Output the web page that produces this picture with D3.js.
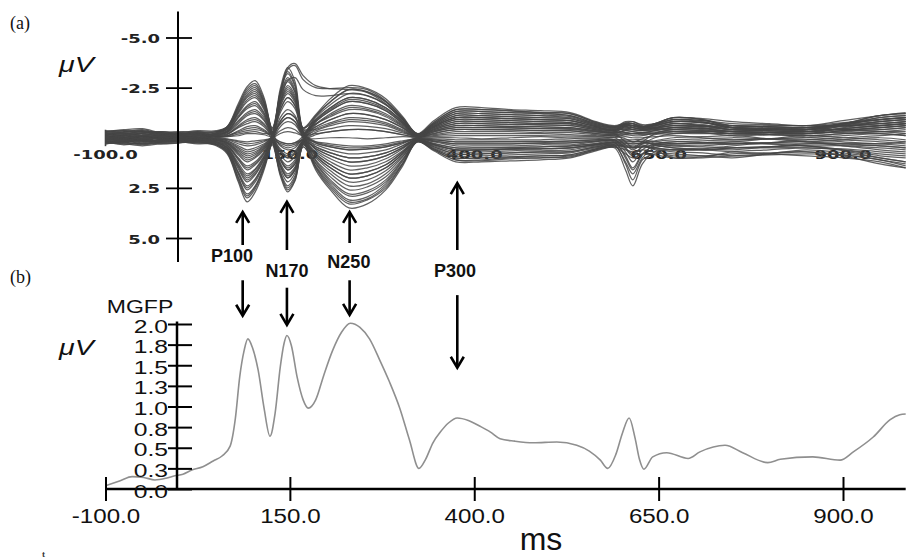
<!DOCTYPE html>
<html>
<head>
<meta charset="utf-8">
<script src="https://cdn.jsdelivr.net/npm/d3@7/dist/d3.min.js"></script>
<style>
  html, body { margin: 0; padding: 0; background: #ffffff; }
  svg { display: block; }
</style>
</head>
<body>
<svg id="chart" width="906" height="559"></svg>
<script>
// ---------------- DATA ----------------
// Sample times (ms) shared by every channel of the butterfly plot (panel a)
const times = [-100,-75,-50,-25,0,25,50,65,80,92,103,115,126,137,147,157,168,185,205,230,255,280,303,323,345,375,410,450,490,530,565,590,605,615,628,645,670,710,750,800,850,900,950,985];

// Channel voltages (µV, positive drawn downward), one array per electrode
const channelValues = [
  [0.2,0.3,0.25,0.1,0.15,0.2,0.4,0.8,2.2,3.2,2.7,1.6,0.2,-0.8,-1.2,-1.0,0.0,1.6,2.6,3.5,3.3,2.6,1.4,0.2,0.6,1.1,1.1,1.0,1.0,0.9,0.6,0.45,0.6,0.7,0.6,0.7,0.9,0.9,0.8,0.75,0.7,0.9,1.3,1.5],
  [-0.1,0.1,0.3,0.2,0.0,0.1,0.35,0.75,2.1,3.0,2.55,1.5,0.2,-0.55,-0.8,-0.65,0.05,1.5,2.5,3.3,3.1,2.5,1.3,0.2,0.55,1.0,1.0,0.95,0.9,0.85,0.55,0.4,0.45,0.5,0.45,0.55,0.7,0.75,0.9,0.85,0.8,0.85,1.1,1.3],
  [0.3,0.2,0.1,0.25,0.2,0.25,0.34,0.7,1.95,2.8,2.4,1.4,0.35,1.9,2.7,2.15,0.45,1.3,2.2,2.9,2.75,2.2,1.15,0.2,0.65,1.2,1.2,1.15,1.1,1.0,0.65,0.5,1.6,2.4,1.3,0.7,0.6,0.6,0.5,0.45,0.4,0.6,0.9,1.0],
  [0.1,0.0,0.15,0.3,0.25,0.1,0.3,0.65,1.8,2.6,2.2,1.3,0.3,1.7,2.4,1.9,0.45,1.4,2.3,3.1,2.95,2.3,1.25,0.2,0.45,0.8,0.8,0.75,0.7,0.7,0.45,0.35,1.3,2.1,1.1,0.8,0.8,0.9,1.0,0.8,0.6,0.75,1.0,1.2],
  [0.2,0.35,0.2,0.0,0.1,0.2,0.3,0.6,1.7,2.4,2.05,1.2,0.1,-1.4,-2.0,-1.6,-0.1,1.15,1.95,2.6,2.45,1.95,1.05,0.15,0.4,0.7,0.7,0.65,0.65,0.6,0.4,0.3,0.35,0.4,0.35,0.6,1.0,0.95,0.7,0.6,0.5,0.6,0.8,0.9],
  [-0.1,0.05,0.2,0.15,0.1,0.0,0.25,0.55,1.55,2.2,1.85,1.1,0.25,1.4,2.0,1.6,0.35,1.0,1.65,2.2,2.1,1.65,0.9,0.15,0.55,1.0,1.0,0.95,0.9,0.85,0.55,0.4,1.2,1.8,1.0,0.5,0.4,0.4,0.3,0.25,0.2,0.4,0.6,0.7],
  [0.3,0.15,-0.05,0.1,0.2,0.25,0.25,0.5,1.4,2.0,1.7,1.0,0.05,-1.8,-2.6,-2.1,-0.2,0.8,1.35,1.8,1.7,1.35,0.7,0.1,0.3,0.5,0.5,0.5,0.45,0.4,0.3,0.2,0.2,0.2,0.2,0.35,0.5,0.55,0.6,0.45,0.3,0.35,0.4,0.5],
  [0.0,0.2,0.3,0.1,-0.05,0.1,0.2,0.45,1.25,1.8,1.55,0.9,0.2,1.1,1.6,1.3,0.35,1.25,2.1,2.8,2.65,2.1,1.1,0.15,0.35,0.6,0.6,0.55,0.55,0.5,0.35,0.25,0.9,1.5,0.8,0.4,0.3,0.25,0.2,0.3,0.4,0.4,0.5,0.6],
  [0.15,0.25,0.1,0.05,0.2,0.15,0.2,0.4,1.1,1.6,1.35,0.8,0.0,-2.1,-3.0,-2.4,-0.3,0.6,1.05,1.4,1.35,1.05,0.55,0.1,0.5,0.9,0.9,0.85,0.8,0.75,0.5,0.35,0.45,0.5,0.45,0.5,0.6,0.55,0.4,0.25,0.1,0.2,0.3,0.2],
  [0.1,-0.1,0.05,0.2,0.15,0.05,0.15,0.35,1.0,1.4,1.2,0.7,0.15,0.85,1.2,0.95,0.25,0.9,1.5,2.0,1.9,1.5,0.8,0.1,0.2,0.4,0.4,0.4,0.35,0.35,0.2,0.15,0.7,1.2,0.6,0.3,0.2,0.15,0.1,0.05,0.0,0.1,0.2,0.3],
  [-0.2,-0.1,0.0,-0.15,0.0,0.05,0.1,0.3,0.85,1.2,1.0,0.6,-0.05,-2.45,-3.5,-2.8,-0.35,0.45,0.75,1.0,0.95,0.75,0.4,0.05,0.15,0.3,0.3,0.3,0.25,0.25,0.15,0.1,0.1,0.1,0.1,0.2,0.3,0.25,0.2,0.05,-0.1,0.0,0.1,0.2],
  [0.05,0.1,-0.1,-0.05,0.05,0.1,0.12,0.25,0.7,1.0,0.85,0.5,0.1,0.55,0.8,0.65,0.2,0.7,1.2,1.6,1.5,1.2,0.65,0.1,0.1,0.2,0.2,0.2,0.2,0.15,0.1,0.1,0.55,0.9,0.45,0.2,0.1,0.05,0.0,0.05,0.1,0.0,-0.1,-0.2],
  [0.2,0.1,0.15,0.0,-0.1,0.0,0.1,0.2,0.55,0.8,0.7,0.4,-0.05,-1.25,-1.8,-1.45,-0.2,0.25,0.45,0.6,0.55,0.45,0.25,0.05,0.35,0.6,0.6,0.55,0.55,0.5,0.35,0.25,0.25,0.3,0.25,0.15,0.0,-0.05,-0.1,0.05,0.2,0.1,0.0,0.1],
  [-0.1,0.0,0.1,0.15,0.05,-0.05,0.05,0.15,0.4,0.6,0.5,0.3,0.05,0.35,0.5,0.4,0.1,0.55,0.9,1.2,1.15,0.9,0.5,0.05,0.05,0.1,0.1,0.1,0.1,0.05,0.05,0.0,0.35,0.6,0.3,0.0,-0.2,-0.2,-0.2,-0.15,-0.1,-0.2,-0.3,-0.4],
  [0.0,-0.15,-0.2,-0.05,0.1,0.0,0.05,0.1,0.3,0.4,0.35,0.2,-0.05,-0.7,-1.0,-0.8,-0.15,-0.2,-0.3,-0.4,-0.4,-0.3,-0.15,0.0,0.0,0.0,0.05,0.0,-0.05,0.0,0.0,0.0,-0.05,0.0,0.0,-0.05,-0.1,0.0,0.1,0.05,0.0,-0.1,-0.2,-0.1],
  [0.1,0.05,-0.1,-0.2,-0.1,0.05,0.0,0.05,0.15,0.2,0.15,0.1,0.05,0.2,0.3,0.25,0.1,0.35,0.6,0.8,0.75,0.6,0.3,0.0,-0.1,-0.2,-0.2,-0.2,-0.2,-0.15,-0.1,-0.1,0.05,0.2,0.05,-0.15,-0.3,-0.3,-0.3,-0.25,-0.2,-0.35,-0.5,-0.6],
  [-0.2,-0.25,-0.1,0.0,-0.05,-0.1,-0.05,-0.05,-0.1,-0.2,-0.2,-0.15,-0.05,-0.35,-0.5,-0.4,-0.1,-0.35,-0.6,-0.8,-0.75,-0.6,-0.3,-0.05,-0.15,-0.3,-0.3,-0.3,-0.25,-0.25,-0.15,-0.1,-0.15,-0.1,-0.1,-0.25,-0.4,-0.35,-0.2,-0.25,-0.3,-0.45,-0.6,-0.7],
  [0.0,0.1,0.2,0.1,0.0,-0.1,-0.05,-0.1,-0.25,-0.35,-0.4,-0.3,0.0,0.7,1.0,0.8,0.15,0.2,0.3,0.4,0.4,0.3,0.15,0.0,-0.2,-0.4,-0.4,-0.4,-0.35,-0.35,-0.2,-0.15,-0.2,-0.2,-0.2,-0.2,-0.2,-0.3,-0.4,-0.4,-0.4,-0.4,-0.4,-0.5],
  [-0.15,-0.3,-0.35,-0.2,-0.1,-0.2,-0.1,-0.1,-0.35,-0.55,-0.6,-0.4,-0.2,-1.55,-2.2,-1.75,-0.3,-0.55,-0.9,-1.2,-1.15,-0.9,-0.5,-0.05,-0.3,-0.5,-0.5,-0.5,-0.45,-0.45,-0.3,-0.2,-0.35,-0.3,-0.25,-0.35,-0.5,-0.45,-0.3,-0.25,-0.2,-0.5,-0.8,-0.9],
  [0.1,0.0,-0.1,0.05,0.15,0.1,0.0,-0.15,-0.5,-0.7,-0.8,-0.55,-0.05,1.0,1.4,1.1,0.15,0.05,0.0,0.0,0.05,0.0,-0.05,-0.05,-0.35,-0.6,-0.6,-0.55,-0.55,-0.5,-0.35,-0.25,-0.35,-0.4,-0.35,-0.45,-0.6,-0.6,-0.5,-0.5,-0.5,-0.6,-0.7,-0.8],
  [-0.25,-0.2,-0.3,-0.15,-0.2,-0.25,-0.1,-0.2,-0.6,-0.9,-1.0,-0.7,-0.25,-1.95,-2.8,-2.25,-0.4,-0.7,-1.2,-1.6,-1.5,-1.2,-0.65,-0.1,-0.4,-0.7,-0.7,-0.65,-0.65,-0.6,-0.4,-0.3,-0.5,-0.5,-0.4,-0.5,-0.7,-0.6,-0.4,-0.35,-0.3,-0.6,-1.0,-1.1],
  [-0.05,0.1,0.0,-0.1,0.05,0.1,-0.1,-0.25,-0.7,-1.1,-1.2,-0.85,-0.05,1.25,1.8,1.45,0.2,-0.15,-0.3,-0.4,-0.4,-0.3,-0.15,-0.05,-0.45,-0.8,-0.8,-0.75,-0.7,-0.7,-0.45,-0.35,-0.55,-0.6,-0.5,-0.6,-0.8,-0.75,-0.6,-0.6,-0.6,-0.6,-0.6,-0.7],
  [-0.3,-0.35,-0.2,-0.1,-0.15,-0.3,-0.15,-0.3,-0.85,-1.25,-1.4,-1.0,-0.3,-2.3,-3.3,-2.65,-0.5,-0.9,-1.5,-2.0,-1.9,-1.5,-0.8,-0.15,-0.5,-0.9,-0.9,-0.85,-0.8,-0.75,-0.5,-0.35,-0.65,-0.7,-0.55,-0.65,-0.9,-0.8,-0.5,-0.45,-0.4,-0.7,-1.1,-1.2],
  [0.05,-0.05,0.15,0.2,0.1,0.0,-0.15,-0.3,-1.0,-1.45,-1.6,-1.1,-0.1,1.55,2.2,1.75,0.2,-0.45,-0.75,-1.0,-0.95,-0.75,-0.4,-0.1,-0.55,-1.0,-1.0,-0.95,-0.9,-0.85,-0.55,-0.4,-0.7,-0.8,-0.6,-0.7,-1.0,-0.9,-0.6,-0.55,-0.5,-0.7,-0.9,-1.0],
  [-0.2,-0.1,-0.25,-0.3,-0.2,-0.15,-0.2,-0.35,-1.1,-1.6,-1.8,-1.25,-0.3,-2.2,-3.5,-3.7,-3.1,-2.6,-2.45,-2.4,-2.25,-1.7,-0.9,-0.15,-0.6,-1.1,-1.1,-1.05,-1.0,-0.95,-0.6,-0.45,-0.65,-0.6,-0.5,-0.6,-0.8,-0.75,-0.5,-0.45,-0.4,-0.55,-0.7,-0.8],
  [0.15,0.2,0.1,0.0,0.05,0.15,-0.2,-0.4,-1.2,-1.8,-2.0,-1.4,-0.1,1.75,2.5,2.0,0.25,-0.65,-1.05,-1.4,-1.35,-1.05,-0.55,-0.1,-0.65,-1.2,-1.2,-1.15,-1.1,-1.0,-0.65,-0.5,-0.7,-0.7,-0.55,-0.65,-0.9,-0.85,-0.6,-0.55,-0.5,-0.65,-0.8,-0.9],
  [-0.3,-0.4,-0.45,-0.25,-0.2,-0.3,-0.3,-0.45,-1.3,-2.0,-2.2,-1.55,-0.4,-2.25,-3.2,-2.55,-0.5,-1.15,-1.95,-2.6,-2.45,-1.95,-1.05,-0.2,-0.7,-1.3,-1.3,-1.25,-1.2,-1.1,-0.7,-0.55,-0.8,-0.8,-0.65,-0.7,-1.0,-0.9,-0.5,-0.45,-0.4,-0.7,-1.0,-1.1],
  [-0.1,0.0,-0.05,0.1,0.0,-0.1,-0.25,-0.5,-1.45,-2.15,-2.4,-1.7,-0.2,1.05,1.5,1.2,0.1,-0.8,-1.35,-1.8,-1.7,-1.35,-0.7,-0.15,-0.75,-1.4,-1.4,-1.35,-1.25,-1.2,-0.75,-0.55,-0.65,-0.6,-0.5,-0.55,-0.7,-0.65,-0.4,-0.35,-0.3,-0.45,-0.6,-0.7],
  [-0.35,-0.3,-0.4,-0.2,-0.25,-0.35,-0.35,-0.55,-1.55,-2.35,-2.6,-1.8,-0.45,-1.75,-2.5,-2.0,-0.45,-1.1,-1.8,-2.4,-2.3,-1.8,-0.95,-0.2,-0.85,-1.5,-1.5,-1.4,-1.35,-1.25,-0.8,-0.6,-0.7,-0.5,-0.45,-0.5,-0.6,-0.5,-0.3,-0.4,-0.5,-0.7,-0.9,-1.0],
  [-0.15,-0.2,-0.3,-0.1,-0.2,-0.25,-0.3,-0.55,-1.7,-2.55,-2.85,-2.0,-0.3,0.4,0.6,0.5,-0.05,-1.0,-1.65,-2.2,-2.1,-1.65,-0.9,-0.15,-0.7,-1.3,-1.3,-1.25,-1.2,-1.1,-0.7,-0.5,-0.55,-0.4,-0.35,-0.4,-0.5,-0.4,-0.2,-0.25,-0.3,-0.4,-0.5,-0.6],
  [-0.25,-0.35,-0.3,-0.25,-0.15,-0.2,-0.3,-0.55,-1.6,-2.45,-2.7,-1.9,-0.5,-2.15,-3.4,-3.6,-2.9,-2.5,-2.45,-2.5,-2.4,-1.85,-1.0,-0.2,-0.65,-1.2,-1.2,-1.15,-1.1,-1.05,-0.65,-0.5,-0.75,-0.7,-0.55,-0.6,-0.8,-0.75,-0.5,-0.45,-0.4,-0.7,-1.1,-1.2],
  [0.0,0.1,0.05,-0.1,0.05,0.0,-0.25,-0.5,-1.5,-2.25,-2.5,-1.75,-0.15,1.8,2.6,2.1,0.2,-0.9,-1.5,-2.0,-1.9,-1.5,-0.8,-0.1,-0.55,-1.0,-1.0,-0.95,-0.9,-0.85,-0.55,-0.4,-0.65,-0.6,-0.5,-0.45,-0.5,-0.45,-0.3,-0.25,-0.2,-0.3,-0.4,-0.5],
  [0.25,0.15,0.3,0.2,0.1,0.15,0.35,0.72,2.0,2.9,2.45,1.45,0.12,-1.6,-2.3,-1.85,-0.15,0.9,1.5,2.0,1.9,1.5,0.8,0.1,0.45,0.8,0.8,0.75,0.72,0.68,0.45,0.35,0.4,0.45,0.4,0.5,0.6,0.6,0.5,0.45,0.4,0.65,1.0,1.2],
  [0.2,0.25,0.35,0.25,0.2,0.3,0.32,0.62,1.75,2.5,2.1,1.25,0.25,0.7,1.0,0.8,0.28,1.45,2.4,3.2,3.05,2.4,1.3,0.2,0.6,1.1,1.15,1.05,1.0,0.95,0.6,0.45,0.8,1.0,0.8,0.85,1.0,1.0,0.9,0.8,0.7,0.85,1.1,1.4],
  [-0.05,0.05,0.1,0.0,0.1,0.05,0.22,0.48,1.35,1.9,1.6,0.95,0.1,-1.0,-1.4,-1.1,-0.05,1.1,1.8,2.4,2.3,1.8,0.95,0.12,0.18,0.3,0.3,0.3,0.28,0.25,0.18,0.12,0.15,0.2,0.18,0.3,0.4,0.45,0.5,0.5,0.5,0.55,0.7,0.8],
  [0.1,0.2,0.05,-0.05,0.05,0.15,0.18,0.38,1.05,1.5,1.28,0.75,0.0,-1.7,-2.4,-1.9,-0.25,0.2,0.38,0.5,0.48,0.38,0.2,0.05,0.33,0.6,0.6,0.58,0.55,0.5,0.33,0.25,0.28,0.3,0.28,0.3,0.3,0.3,0.3,0.25,0.2,0.3,0.4,0.5],
  [0.15,0.0,-0.05,0.1,0.2,0.1,0.13,0.28,0.77,1.1,0.94,0.55,0.19,1.4,2.0,1.6,0.33,0.8,1.35,1.8,1.7,1.35,0.72,0.12,0.28,0.5,0.5,0.48,0.45,0.42,0.28,0.2,1.0,1.6,0.85,0.35,0.2,0.25,0.3,0.3,0.3,0.28,0.3,0.4],
  [-0.1,-0.2,-0.15,-0.25,-0.1,-0.05,0.05,0.15,0.48,0.7,0.6,0.35,-0.1,-2.05,-2.9,-2.3,-0.4,-0.42,-0.68,-0.9,-0.85,-0.68,-0.35,-0.05,-0.06,-0.1,-0.1,-0.1,-0.1,-0.08,-0.06,-0.05,-0.15,-0.2,-0.15,-0.2,-0.3,-0.25,-0.1,-0.15,-0.2,-0.35,-0.5,-0.6],
  [0.05,0.15,0.1,0.2,0.1,0.0,0.04,0.08,0.21,0.3,0.26,0.15,0.1,1.1,1.6,1.3,0.24,0.45,0.75,1.0,0.95,0.75,0.4,0.02,-0.28,-0.5,-0.5,-0.48,-0.45,-0.42,-0.28,-0.2,0.2,0.5,0.2,-0.2,-0.4,-0.45,-0.5,-0.4,-0.3,-0.25,-0.2,-0.1],
  [-0.2,-0.1,-0.2,-0.3,-0.25,-0.15,-0.05,-0.1,-0.3,-0.45,-0.5,-0.35,-0.12,-0.84,-1.2,-1.0,-0.22,-0.68,-1.12,-1.5,-1.42,-1.12,-0.6,-0.12,-0.5,-0.9,-0.9,-0.85,-0.8,-0.76,-0.5,-0.36,-0.45,-0.5,-0.45,-0.65,-0.9,-0.85,-0.7,-0.65,-0.6,-0.75,-0.9,-1.0],
  [-0.1,0.0,-0.1,-0.05,-0.15,-0.2,-0.1,-0.18,-0.54,-0.81,-0.9,-0.63,-0.1,0.21,0.3,0.24,-0.08,-1.08,-1.8,-2.4,-2.28,-1.8,-0.96,-0.17,-0.6,-1.1,-1.1,-1.05,-1.0,-0.94,-0.6,-0.44,-0.42,-0.4,-0.38,-0.5,-0.7,-0.6,-0.4,-0.4,-0.4,-0.6,-0.8,-0.9],
  [-0.05,-0.15,-0.05,0.05,-0.1,-0.1,-0.13,-0.26,-0.78,-1.17,-1.3,-0.91,-0.26,-1.4,-2.0,-1.6,-0.21,0.27,0.45,0.6,0.57,0.45,0.24,0.01,-0.22,-0.4,-0.4,-0.38,-0.36,-0.34,-0.22,-0.16,-0.25,-0.3,-0.25,-0.28,-0.3,-0.25,-0.2,-0.15,-0.1,-0.2,-0.3,-0.3],
  [-0.2,-0.25,-0.35,-0.2,-0.1,-0.2,-0.17,-0.34,-1.02,-1.53,-1.7,-1.19,-0.16,0.63,0.9,0.72,0.05,-0.54,-0.9,-1.2,-1.14,-0.9,-0.48,-0.13,-0.77,-1.4,-1.4,-1.33,-1.26,-1.19,-0.77,-0.56,-0.6,-0.6,-0.55,-0.7,-1.0,-0.95,-0.8,-0.7,-0.6,-0.85,-1.1,-1.25],
  [0.0,-0.1,-0.25,-0.15,-0.05,0.0,-0.21,-0.42,-1.26,-1.89,-2.1,-1.47,-0.3,-0.7,-1.0,-0.8,-0.22,-0.86,-1.42,-1.9,-1.8,-1.42,-0.76,-0.12,-0.33,-0.6,-0.6,-0.57,-0.54,-0.51,-0.33,-0.24,-0.4,-0.5,-0.4,-0.4,-0.4,-0.35,-0.3,-0.3,-0.3,-0.45,-0.6,-0.7],
  [0.1,0.15,0.0,0.05,0.1,0.05,-0.23,-0.46,-1.38,-2.07,-2.3,-1.61,-0.18,1.33,1.9,1.52,0.2,-0.27,-0.45,-0.6,-0.57,-0.45,-0.24,-0.07,-0.39,-0.7,-0.7,-0.67,-0.63,-0.6,-0.39,-0.28,-0.6,-0.7,-0.55,-0.5,-0.6,-0.55,-0.4,-0.45,-0.5,-0.6,-0.7,-0.8],
  [-0.15,-0.05,0.05,0.0,-0.05,-0.1,0.11,0.23,0.63,0.9,0.77,0.45,0.06,-0.21,-0.3,-0.24,-0.13,-0.81,-1.35,-1.8,-1.71,-1.35,-0.72,-0.13,-0.44,-0.8,-0.8,-0.76,-0.72,-0.68,-0.44,-0.32,-0.25,-0.2,-0.25,-0.35,-0.5,-0.55,-0.6,-0.55,-0.5,-0.4,-0.3,-0.2],
  [0.25,0.3,0.4,0.3,0.25,0.2,0.25,0.53,1.47,2.1,1.79,1.05,0.19,0.28,0.4,0.32,0.11,0.54,0.9,1.2,1.14,0.9,0.48,0.07,0.11,0.2,0.2,0.19,0.18,0.17,0.11,0.1,0.5,0.8,0.45,0.4,0.5,0.6,0.7,0.8,0.9,1.0,1.2,1.5],
  [-0.3,-0.2,-0.1,-0.2,-0.3,-0.25,-0.03,-0.06,-0.18,-0.27,-0.3,-0.21,-0.25,-1.8,-2.85,-3.0,-2.4,-2.1,-2.1,-2.2,-2.09,-1.65,-0.88,-0.16,-0.55,-1.0,-1.0,-0.95,-0.9,-0.85,-0.55,-0.4,-0.55,-0.6,-0.5,-0.6,-0.8,-0.75,-0.5,-0.45,-0.4,-0.65,-0.9,-1.0]
];

// Mean global field power (panel b)
const mgfpTimes  = [-100,-80,-64,-48,-33,-18,-6,5,17,32,46,58,69,76,82,88,93,99,107,115,123,130,137,142,146,152,160,168,175,185,196,208,220,232,245,258,272,285,299,312,325,334,344,354,365,377,392,408,422,435,455,480,512,539,556,571,581,592,601,610,618,624,630,642,661,690,706,740,764,798,815,859,896,914,941,964,977,985];
const mgfpValues = [0.04,0.10,0.15,0.14,0.11,0.13,0.16,0.18,0.23,0.27,0.34,0.40,0.52,0.85,1.36,1.68,1.82,1.72,1.44,0.98,0.64,0.92,1.48,1.76,1.86,1.74,1.35,1.08,0.98,1.08,1.38,1.68,1.90,2.01,1.96,1.82,1.56,1.30,0.98,0.60,0.25,0.36,0.56,0.69,0.80,0.86,0.83,0.76,0.69,0.61,0.58,0.56,0.57,0.53,0.46,0.35,0.25,0.42,0.68,0.86,0.62,0.36,0.24,0.39,0.44,0.37,0.45,0.53,0.44,0.32,0.36,0.39,0.35,0.45,0.63,0.84,0.90,0.91];

// Ticks
const xTicks = [-100, 150, 400, 650, 900];
const xTickLabels = ["-100.0", "150.0", "400.0", "650.0", "900.0"];
const topYTicks = [-5, -2.5, 2.5, 5];
const topYTickLabels = ["-5.0", "-2.5", "2.5", "5.0"];
const botYTicks = [0, 0.25, 0.5, 0.75, 1.0, 1.25, 1.5, 1.75, 2.0];
const botYTickLabels = ["0.0", "0.3", "0.5", "0.8", "1.0", "1.3", "1.5", "1.8", "2.0"];

// ERP components (name, latency in ms)
const componentNames = ["P100", "N170", "N250", "P300"];
const componentLatency = [86, 146, 231, 377];

// ---------------- LAYOUT ----------------
const svg = d3.select("#chart");
const SANS = "'Liberation Sans', Arial, Helvetica, sans-serif";
const WIDE = "'DejaVu Sans', Verdana, sans-serif";
const SERIF = "'Liberation Serif', 'Times New Roman', serif";

const x = d3.scaleLinear().domain([-100, 900]).range([105.5, 843]);
const yTop = d3.scaleLinear().domain([-5, 5]).range([37.5, 238]);
const yBot = d3.scaleLinear().domain([0, 2]).range([489, 324]);

// arrow geometry (in each panel's µV units) and label placement
const topArrowTip  = [3.7, 3.2, 3.7, 2.26];
const topArrowTail = [5.35, 5.6, 5.25, 5.6];
const botArrowTail = [2.53, 2.44, 2.53, 2.35];
const botArrowTip  = [2.10, 1.99, 2.11, 1.47];
const labelMs = [71.5, 146, 230, 374];
const labelY = [262, 277, 268, 277];

// panel letters
svg.append("text").attr("x", 10).attr("y", 29).text("(a)")
  .style("font-family", SERIF).style("font-size", "18px").attr("fill", "#111");
svg.append("text").attr("x", 10).attr("y", 283).text("(b)")
  .style("font-family", SERIF).style("font-size", "18px").attr("fill", "#111");

// ---------- Panel (a) ----------
// time labels on the zero line (drawn beneath the traces)
svg.append("g").selectAll("text").data(xTicks).join("text")
  .attr("transform", d => `translate(${x(d)},${yTop(0) + 21}) scale(1.5,1)`)
  .attr("text-anchor", "middle")
  .style("font-family", WIDE).style("font-weight", "bold").style("font-size", "12px")
  .attr("fill", "#222")
  .text((d, i) => xTickLabels[i]);

// start tick at -100 ms
svg.append("line")
  .attr("x1", x(-100)).attr("x2", x(-100))
  .attr("y1", yTop(-0.4)).attr("y2", yTop(0.42))
  .attr("stroke", "#444").attr("stroke-width", 1.6);

const lineTop = d3.line()
  .x((d, i) => x(times[i]))
  .y(d => yTop(d))
  .curve(d3.curveCatmullRom.alpha(0.5));

svg.append("g").selectAll("path").data(channelValues).join("path")
  .attr("d", lineTop)
  .attr("fill", "none")
  .attr("stroke", "#454545")
  .attr("stroke-width", 1.25)
  .attr("stroke-opacity", 0.85);

// y axis (a)
const gTopY = svg.append("g").attr("transform", "translate(178,0)")
  .call(d3.axisLeft(yTop).tickValues(topYTicks).tickFormat((d, i) => topYTickLabels[i]).tickSize(12));
gTopY.select(".domain").remove();
gTopY.selectAll(".tick line").attr("x1", -12).attr("x2", 14).attr("stroke", "#000").attr("stroke-width", 1.8);
gTopY.selectAll(".tick text")
  .attr("x", 0).attr("dy", null).attr("y", 0)
  .attr("transform", "translate(-18,5) scale(1.5,1)")
  .attr("text-anchor", "end").attr("fill", "#222")
  .style("font-family", WIDE).style("font-weight", "bold").style("font-size", "12px");
svg.append("line")
  .attr("x1", 178).attr("x2", 178)
  .attr("y1", yTop(-6.3)).attr("y2", yTop(6.2))
  .attr("stroke", "#000").attr("stroke-width", 2);

svg.append("text").attr("transform", "translate(59,72) scale(1.3,1)")
  .style("font-family", SANS).style("font-style", "italic").style("font-size", "22px")
  .attr("fill", "#111").text("μV");

// ---------- Panel (b) ----------
const mgfp = mgfpTimes.map((t, i) => ({ t, v: mgfpValues[i] }));
svg.append("path").datum(mgfp)
  .attr("d", d3.line().x(d => x(d.t)).y(d => yBot(d.v)).curve(d3.curveMonotoneX))
  .attr("fill", "none").attr("stroke", "#8f8f8f").attr("stroke-width", 1.6);

// x axis (b)
const gBotX = svg.append("g").attr("transform", "translate(0,489)")
  .call(d3.axisBottom(x).tickValues(xTicks).tickFormat((d, i) => xTickLabels[i]).tickSize(12));
gBotX.select(".domain").remove();
gBotX.selectAll(".tick line").attr("y1", -12).attr("y2", 12).attr("stroke", "#000").attr("stroke-width", 2);
gBotX.selectAll(".tick text")
  .attr("y", 0).attr("dy", null)
  .attr("transform", "translate(0,34) scale(1.15,1)")
  .attr("fill", "#111")
  .style("font-family", SANS).style("font-size", "21px");
svg.append("line")
  .attr("x1", x(-100)).attr("x2", x(985))
  .attr("y1", yBot(0)).attr("y2", yBot(0))
  .attr("stroke", "#000").attr("stroke-width", 2.5);

// y axis (b)
const gBotY = svg.append("g").attr("transform", "translate(177,0)")
  .call(d3.axisLeft(yBot).tickValues(botYTicks).tickFormat((d, i) => botYTickLabels[i]).tickSize(10));
gBotY.select(".domain").remove();
gBotY.selectAll(".tick line").attr("x1", -9).attr("x2", 15).attr("stroke", "#000").attr("stroke-width", 2);
gBotY.selectAll(".tick text")
  .attr("x", 0).attr("dy", null).attr("y", 0)
  .attr("transform", "translate(-9,8) scale(1.3,1)")
  .attr("text-anchor", "end").attr("fill", "#111")
  .style("font-family", SANS).style("font-size", "19px");
svg.append("line")
  .attr("x1", 177).attr("x2", 177)
  .attr("y1", yBot(0)).attr("y2", yBot(2.03))
  .attr("stroke", "#000").attr("stroke-width", 2.5);

svg.append("text").attr("transform", "translate(140,313) scale(1.28,1)")
  .attr("text-anchor", "middle")
  .style("font-family", SANS).style("font-size", "18px").attr("fill", "#111").text("MGFP");
svg.append("text").attr("transform", "translate(59,355) scale(1.3,1)")
  .style("font-family", SANS).style("font-style", "italic").style("font-size", "22px")
  .attr("fill", "#111").text("μV");
svg.append("text").attr("x", 541).attr("y", 550).attr("text-anchor", "middle")
  .style("font-family", SANS).style("font-size", "32px").attr("fill", "#111").text("ms");
svg.append("text").attr("x", 42).attr("y", 557)
  .style("font-family", SERIF).style("font-size", "9px").style("font-weight", "bold")
  .attr("fill", "#333").text("t");

// ---------- component arrows ----------
const gArr = svg.append("g").attr("stroke", "#000").attr("stroke-width", 2.6).attr("fill", "none");
componentNames.forEach((name, i) => {
  const ax = x(componentLatency[i]);
  const tTip = yTop(topArrowTip[i]), tTail = yTop(topArrowTail[i]);
  gArr.append("line").attr("x1", ax).attr("x2", ax).attr("y1", tTail).attr("y2", tTip + 1);
  gArr.append("path").attr("d", `M${ax - 6.5},${tTip + 11} L${ax},${tTip} L${ax + 6.5},${tTip + 11}`);
  const bTip = yBot(botArrowTip[i]), bTail = yBot(botArrowTail[i]);
  gArr.append("line").attr("x1", ax).attr("x2", ax).attr("y1", bTail).attr("y2", bTip - 1);
  gArr.append("path").attr("d", `M${ax - 6.5},${bTip - 11} L${ax},${bTip} L${ax + 6.5},${bTip - 11}`);
  svg.append("text").attr("x", x(labelMs[i])).attr("y", labelY[i])
    .attr("text-anchor", "middle")
    .style("font-family", SANS).style("font-weight", "bold").style("font-size", "18px")
    .attr("fill", "#111").text(name);
});
</script>
</body>
</html>
